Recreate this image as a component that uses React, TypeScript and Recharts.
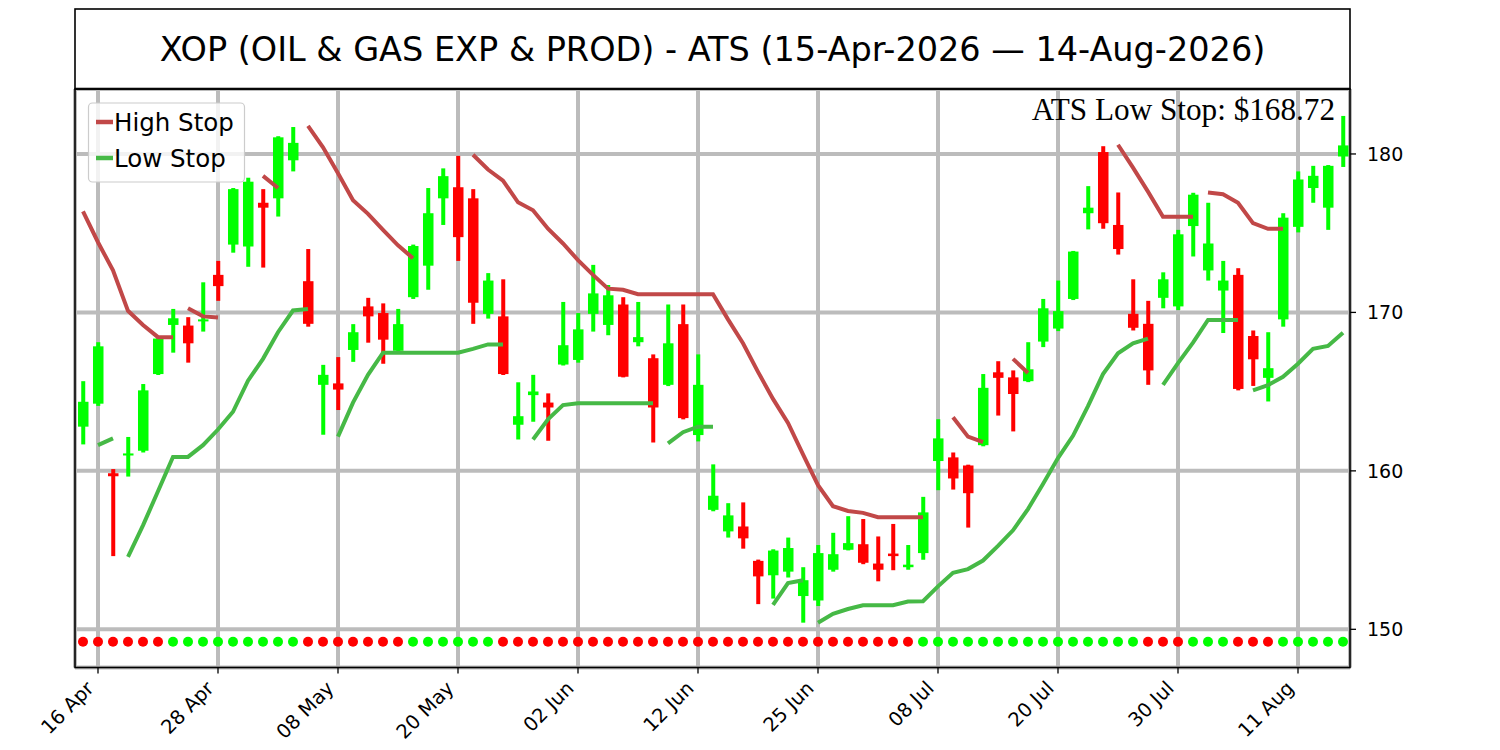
import { ComposedChart, Bar, Line, XAxis, YAxis, CartesianGrid } from 'recharts'

// daily OHLC, 15 Apr 2026 .. 14 Aug 2026 (85 sessions)
const opens = [
  162.79, 164.24, 159.85, 160.97, 161.27, 166.11, 169.21, 169.17, 169.45, 172.37,
  174.28, 174.16, 176.92, 177.2, 179.6, 171.97, 165.43, 165.52, 167.63, 170.38,
  169.96, 167.58, 170.96, 172.95, 177.2, 177.9, 177.2, 169.91, 169.75, 162.91,
  164.78, 164.31, 166.71, 167.0, 169.91, 169.21, 170.5, 168.12, 167.11, 165.43,
  169.26, 162.26, 157.54, 156.18, 156.49, 154.32, 153.41, 153.64, 152.1, 151.82,
  153.76, 155.02, 155.37, 154.15, 154.78, 153.92, 154.81, 160.62, 160.85, 160.34,
  161.62, 166.22, 165.9, 165.66, 168.16, 168.98, 170.85, 176.26, 180.12, 175.52,
  169.91, 169.28, 170.92, 170.38, 175.45, 172.65, 171.38, 172.37, 168.51, 165.87,
  169.56, 175.4, 177.85, 176.61, 179.84,
]
const highs = [
  165.66, 168.12, 160.11, 162.14, 165.48, 168.51, 170.22, 169.7, 171.9, 173.25,
  177.85, 178.5, 177.78, 181.12, 181.7, 174.0, 166.69, 167.18, 169.26, 170.92,
  170.57, 170.22, 174.28, 177.85, 179.09, 179.88, 177.78, 172.48, 172.09, 165.59,
  166.06, 164.89, 170.66, 169.96, 173.0, 171.73, 170.96, 170.66, 167.35, 170.5,
  170.5, 167.35, 160.41, 157.96, 158.01, 154.4, 155.05, 155.79, 153.92, 155.32,
  156.09, 157.14, 156.96, 155.86, 156.65, 155.32, 158.36, 163.26, 161.16, 160.39,
  166.11, 166.92, 166.34, 168.12, 170.85, 172.01, 173.88, 177.97, 180.49, 177.57,
  172.09, 170.73, 172.53, 175.21, 177.55, 176.92, 173.25, 172.79, 168.86, 168.75,
  176.26, 178.9, 179.25, 179.3, 182.4,
]
const lows = [
  161.67, 164.1, 154.62, 159.64, 161.16, 166.05, 167.46, 166.83, 168.79, 170.73,
  173.77, 172.88, 172.83, 176.05, 178.9, 169.1, 162.28, 163.84, 166.88, 168.09,
  166.76, 167.39, 170.85, 171.43, 175.52, 173.25, 169.28, 169.61, 166.05, 161.98,
  163.1, 161.9, 166.65, 166.83, 168.79, 168.56, 165.9, 167.86, 161.79, 165.35,
  163.25, 161.86, 157.45, 155.79, 155.09, 151.59, 151.94, 153.27, 150.42, 151.47,
  153.64, 154.98, 154.11, 153.03, 153.73, 153.76, 154.39, 158.78, 158.82, 156.42,
  161.55, 163.49, 162.49, 165.6, 167.81, 168.82, 170.78, 175.24, 175.28, 173.65,
  168.86, 165.43, 170.26, 170.15, 173.53, 172.01, 168.7, 165.08, 165.36, 164.38,
  169.1, 175.05, 176.92, 175.21, 179.18,
]
const closes = [
  164.36, 167.86, 159.66, 161.1, 165.08, 168.35, 169.63, 168.05, 169.56, 171.66,
  177.78, 178.25, 176.61, 181.05, 180.7, 169.28, 166.06, 165.13, 168.75, 169.75,
  168.28, 169.26, 174.19, 176.26, 178.6, 174.75, 170.61, 172.01, 166.11, 163.45,
  165.01, 164.0, 167.93, 168.93, 171.2, 171.08, 165.94, 168.44, 164.0, 168.05,
  163.33, 165.43, 158.43, 157.19, 155.74, 153.34, 154.97, 155.13, 153.1, 154.81,
  154.74, 155.44, 154.2, 153.76, 154.62, 154.08, 157.38, 162.05, 159.52, 158.59,
  165.24, 165.87, 164.85, 166.41, 170.26, 170.08, 173.84, 176.61, 175.63, 174.0,
  169.03, 166.34, 172.09, 174.93, 177.43, 174.35, 172.01, 165.17, 167.04, 166.48,
  175.98, 178.39, 178.62, 179.25, 180.54,
]
// trend state per session: g = up (low stop active), r = down
const trend =
  'rrrrrrgggggggggrrrrrrrggggggrrrrrrrrrrrrrrrrrrrrrrrrrrrrgggggggggggggggrrrgggrrrggggg'

// stop lines, given as [first session index, values]
const highStopSegments: [number, number[]][] = [
  [0, [176.38, 174.43, 172.65, 170.1, 169.21, 168.44, 168.44]],
  [7, [170.26, 169.75, 169.68]],
  [12, [178.62, 177.85]],
  [15, [181.77, 180.42, 178.79, 177.08, 176.22, 175.21, 174.23, 173.42]],
  [26, [179.95, 179.02, 178.32, 176.95, 176.45, 175.28, 174.35, 173.3, 172.37, 171.5,
    171.43, 171.15, 171.15, 171.15, 171.15, 171.15, 171.15, 169.56, 168.05, 166.25,
    164.54, 163.03, 161.04, 159.1, 157.77, 157.47, 157.35, 157.07, 157.07, 157.07, 157.07]],
  [58, [163.38, 162.16, 161.81]],
  [62, [167.07, 166.18]],
  [69, [180.58, 179.14, 177.62, 176.03, 176.03, 176.03]],
  [75, [177.57, 177.46, 176.92, 175.63, 175.28, 175.28]],
]
const lowStopSegments: [number, number[]][] = [
  [1, [161.62, 162.05]],
  [3, [154.57, 156.56, 158.71, 160.88, 160.88, 161.62, 162.61, 163.73, 165.69, 167.07,
    168.75, 170.12, 170.22]],
  [17, [162.16, 164.31, 166.06, 167.46, 167.46, 167.46, 167.46, 167.46, 167.46, 167.7,
    167.98, 167.98]],
  [30, [161.98, 163.26, 164.15, 164.26, 164.26, 164.26, 164.26, 164.26, 164.26]],
  [39, [161.74, 162.44, 162.79, 162.79]],
  [46, [151.54, 152.92, 153.1]],
  [49, [150.42, 150.98, 151.28, 151.52, 151.52, 151.52, 151.75, 151.77, 152.71, 153.57,
    153.8, 154.34, 155.27, 156.25, 157.59, 159.17, 160.81, 162.21, 164.08, 166.11,
    167.42, 168.05, 168.35]],
  [72, [165.43, 166.8, 168.09, 169.52, 169.52, 169.52]],
  [78, [165.08, 165.41, 165.94, 166.76, 167.7, 167.88, 168.72]],
]

const tickIndex = [1, 9, 17, 25, 33, 41, 49, 57, 65, 73, 81]
const tickLabels = ['16 Apr', '28 Apr', '08 May', '20 May', '02 Jun', '12 Jun', '25 Jun', '08 Jul', '20 Jul', '30 Jul', '11 Aug']
const yTicks = [150, 160, 170, 180]
const dotLevel = 149.22
const lastLowStop = 168.72

const UP = '#00ff00'
const DOWN = '#ff0000'
const HIGH_STOP = '#c14848'
const LOW_STOP = '#46b946'
const FONT = 'DejaVu Sans'

const data: any[] = opens.map((o, i) => ({
  i,
  range: [lows[i], highs[i]],
  open: o,
  close: closes[i],
  dot: dotLevel,
  up: trend[i] === 'g',
  hsA: null, hsB: null, lsA: null, lsB: null,
}))

// adjacent segments go to alternating series so they don't get joined
function addSegments(segs: [number, number[]][], prefix: string) {
  segs.forEach(([start, vals], k) => {
    const key = prefix + (k % 2 ? 'B' : 'A')
    vals.forEach((v, j) => { data[start + j][key] = v })
  })
}
addSegments(highStopSegments, 'hs')
addSegments(lowStopSegments, 'ls')

function Candle(props: any) {
  const { x, y, width, height, payload } = props
  if (x == null || y == null) return null
  const [lo, hi] = payload.range
  const top = Math.min(y, y + height)
  const h = Math.abs(height)
  const toY = (v: number) => top + ((hi - v) / (hi - lo)) * h
  const cx = x + width / 2
  const color = payload.close >= payload.open ? UP : DOWN
  const bTop = toY(Math.max(payload.open, payload.close))
  const bBot = toY(Math.min(payload.open, payload.close))
  const bh = Math.max(bBot - bTop, 2)
  return (
    <g>
      <rect x={cx - 2} y={top} width={4} height={h} fill={color} />
      <rect x={cx - 5.25} y={bTop} width={10.5} height={bh} fill={color} />
    </g>
  )
}

function TrendDot(props: any) {
  const { cx, cy, payload, index } = props
  if (cx == null || cy == null) return <g key={index} />
  return <circle key={index} cx={cx} cy={cy} r={5} fill={payload.up ? UP : DOWN} />
}

function XTick(props: any) {
  const { x, y, payload } = props
  const k = tickIndex.indexOf(payload.value)
  const tx = x - 3
  const ty = y + 14
  return (
    <text x={tx} y={ty} transform={`rotate(-45 ${tx} ${ty})`} textAnchor="end"
      fontSize={19.5} fontFamily={FONT} fill="#000">
      {k >= 0 ? tickLabels[k] : ''}
    </text>
  )
}

export default function App() {
  return (
    <div style={{ position: 'absolute', left: 0, top: 0, width: 1500, height: 750, background: '#fff', fontFamily: FONT }}>
      <ComposedChart width={1500} height={750} data={data}
        margin={{ top: 89, right: 0, bottom: 0, left: 75 }}>
        <CartesianGrid stroke="#bcbcbc" strokeWidth={4} />
        <XAxis dataKey="i" type="number" domain={[-0.533, 84.467]} allowDataOverflow
          ticks={tickIndex} interval={0} height={82.5} tickSize={6}
          tickLine={{ stroke: '#000', strokeWidth: 1.3 }} axisLine={false} tick={<XTick />} />
        <YAxis orientation="right" width={150} domain={[147.59, 184.1]} allowDataOverflow
          ticks={yTicks} interval={0} tickSize={6} tickMargin={11}
          tickLine={{ stroke: '#000', strokeWidth: 1.3 }} axisLine={false}
          tick={{ fontSize: 19, fill: '#000', fontFamily: FONT }} />
        <Bar dataKey="range" barSize={15} shape={<Candle />} isAnimationActive={false} />
        <Line dataKey="hsA" stroke={HIGH_STOP} strokeWidth={4} dot={false} activeDot={false} connectNulls={false} isAnimationActive={false} />
        <Line dataKey="hsB" stroke={HIGH_STOP} strokeWidth={4} dot={false} activeDot={false} connectNulls={false} isAnimationActive={false} />
        <Line dataKey="lsA" stroke={LOW_STOP} strokeWidth={4} dot={false} activeDot={false} connectNulls={false} isAnimationActive={false} />
        <Line dataKey="lsB" stroke={LOW_STOP} strokeWidth={4} dot={false} activeDot={false} connectNulls={false} isAnimationActive={false} />
        <Line dataKey="dot" stroke="none" dot={TrendDot} activeDot={false} isAnimationActive={false} />
      </ComposedChart>
      <svg width={1500} height={750} style={{ position: 'absolute', left: 0, top: 0, pointerEvents: 'none' }}>
        <rect x={75} y={9} width={1275} height={80} fill="none" stroke="#000" strokeWidth={1.6} />
        <text x={712.5} y={61} textAnchor="middle" fontSize={33.5} fontFamily={FONT} fill="#000">
          XOP (OIL &amp; GAS EXP &amp; PROD) - ATS (15-Apr-2026 — 14-Aug-2026)
        </text>
        <rect x={75} y={89} width={1275} height={578.5} fill="none" stroke="#000" strokeWidth={1.6} />
        <text x={1335} y={120} textAnchor="end" fontSize={31.2} fontFamily="Liberation Serif" fill="#000">
          {`ATS Low Stop: $${lastLowStop.toFixed(2)}`}
        </text>
        <rect x={88.5} y={103} width={156} height={79} rx={4} fill="#fff" fillOpacity={0.8} stroke="#cccccc" strokeWidth={1.2} />
        <line x1={96} y1={122} x2={113} y2={122} stroke={HIGH_STOP} strokeWidth={4.5} />
        <line x1={96} y1={158} x2={113} y2={158} stroke={LOW_STOP} strokeWidth={4.5} />
        <text x={114} y={131} fontSize={24.5} fontFamily={FONT} fill="#000">High Stop</text>
        <text x={114} y={166.7} fontSize={24.5} fontFamily={FONT} fill="#000">Low Stop</text>
      </svg>
    </div>
  )
}
